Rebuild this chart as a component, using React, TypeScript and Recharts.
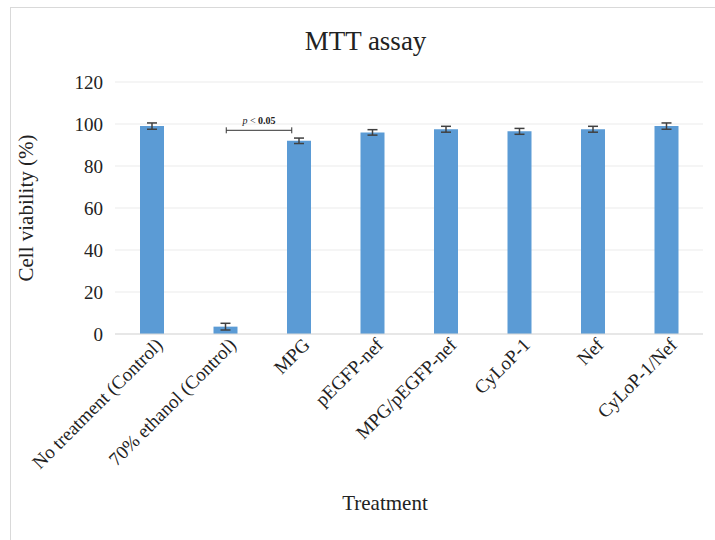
import React from "react";
import {
  BarChart,
  Bar,
  XAxis,
  YAxis,
  CartesianGrid,
  ErrorBar,
  ReferenceLine,
} from "recharts";

const treatments = [
  "No treatment (Control)",
  "70% ethanol (Control)",
  "MPG",
  "pEGFP-nef",
  "MPG/pEGFP-nef",
  "CyLoP-1",
  "Nef",
  "CyLoP-1/Nef",
];
const viability = [99, 3.5, 92, 96, 97.5, 96.5, 97.5, 99];
const errors = [1.5, 1.6, 1.3, 1.3, 1.4, 1.4, 1.4, 1.5];
const yTicks = [0, 20, 40, 60, 80, 100, 120];
const sigLevel = 97;

const data = treatments.map((name, i) => ({
  name,
  value: viability[i],
  err: errors[i],
}));

const FONT = "'Liberation Serif', 'Times New Roman', serif";

const RotatedTick = (props: any) => {
  const { x, y, payload } = props;
  return (
    <g transform={`translate(${x + 9},${y + 1})`}>
      <text
        transform="rotate(-45)"
        textAnchor="end"
        dominantBaseline="middle"
        fontFamily={FONT}
        fontSize={19}
        fill="#222"
      >
        {payload.value}
      </text>
    </g>
  );
};

const SigBracket = (props: any) => {
  const { x1, y1, x2 } = props;
  if (x1 == null || x2 == null) return null;
  const left = x1 + 1;
  const right = x2 - 7;
  const cx = (left + right) / 2;
  return (
    <g>
      <line x1={left} y1={y1} x2={right} y2={y1} stroke="#333" strokeWidth={1} />
      <line x1={left} y1={y1 - 3} x2={left} y2={y1 + 3} stroke="#333" strokeWidth={1} />
      <line x1={right} y1={y1 - 3} x2={right} y2={y1 + 3} stroke="#333" strokeWidth={1} />
      <text x={cx} y={y1 - 6} textAnchor="middle" fontFamily={FONT} fontSize={10} fill="#222">
        <tspan fontStyle="italic">p</tspan>
        <tspan> &lt; </tspan>
        <tspan fontWeight="bold">0.05</tspan>
      </text>
    </g>
  );
};

export default function App() {
  return (
    <div style={{ position: "absolute", left: 0, top: 0, width: 715, height: 540, background: "#fff", overflow: "hidden" }}>
      <div
        style={{
          position: "absolute",
          left: 10,
          top: 7,
          width: 720,
          height: 560,
          border: "1px solid #d9d9d9",
        }}
      />
      <div
        style={{
          position: "absolute",
          left: 0,
          width: 715,
          top: 26,
          textAlign: "center",
          fontFamily: FONT,
          fontSize: 27,
          color: "#222",
          paddingLeft: 8,
        }}
      >
        MTT assay
      </div>
      <div style={{ position: "absolute", left: 0, top: 0 }}>
        <BarChart
          width={715}
          height={540}
          data={data}
          margin={{ top: 82, right: 12, bottom: 18, left: 0 }}
          barCategoryGap="33%"
        >
          <CartesianGrid vertical={false} stroke="#ebebeb" />
          <XAxis
            dataKey="name"
            interval={0}
            tickLine={false}
            axisLine={{ stroke: "#d9d9d9" }}
            height={188}
            tick={<RotatedTick />}
            label={{
              value: "Treatment",
              position: "insideBottom",
              offset: 12,
              dx: -24,
              fontFamily: FONT,
              fontSize: 21,
              fill: "#222",
            }}
          />
          <YAxis
            width={115}
            domain={[0, 120]}
            ticks={yTicks}
            tickLine={false}
            axisLine={false}
            tickMargin={6}
            tick={{ fontFamily: FONT, fontSize: 19, fill: "#222" }}
            label={{
              value: "Cell viability (%)",
              angle: -90,
              position: "insideLeft",
              offset: 26,
              style: { textAnchor: "middle" },
              fontFamily: FONT,
              fontSize: 21,
              fill: "#222",
            }}
          />
          <Bar dataKey="value" fill="#5b9bd5" barSize={24} isAnimationActive={false}>
            <ErrorBar dataKey="err" width={5} stroke="#404040" strokeWidth={1.5} />
          </Bar>
          <ReferenceLine
            segment={[
              { x: treatments[1], y: sigLevel },
              { x: treatments[2], y: sigLevel },
            ]}
            shape={<SigBracket />}
            ifOverflow="visible"
          />
        </BarChart>
      </div>
    </div>
  );
}
